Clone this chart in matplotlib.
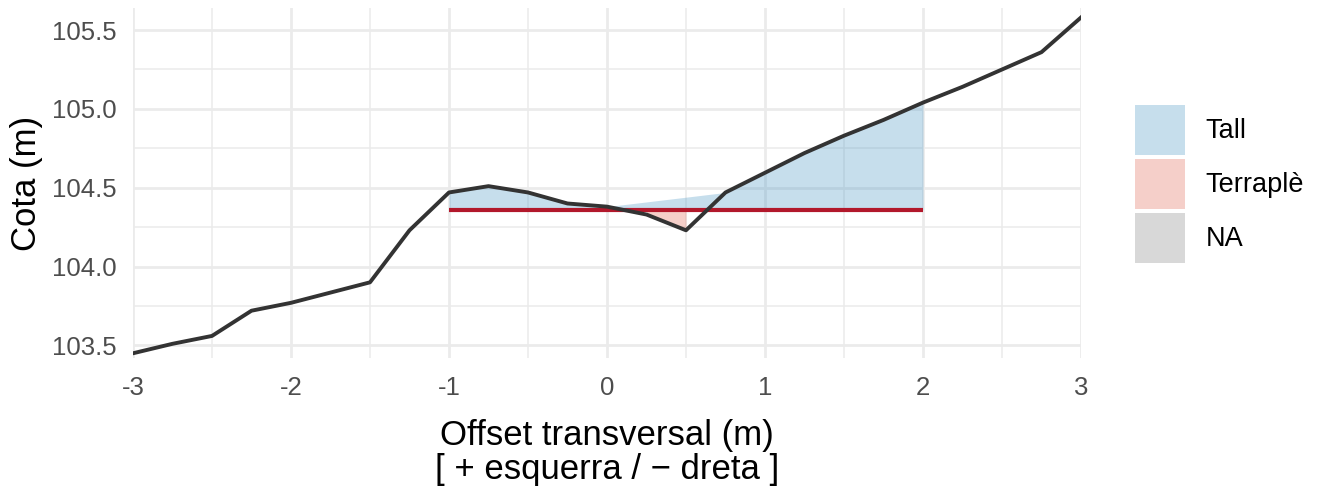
import matplotlib
matplotlib.use("Agg")
import matplotlib.pyplot as plt
from matplotlib.patches import Patch
import numpy as np

plt.rcParams['font.family'] = ['Liberation Sans', 'DejaVu Sans']

# terrain profile (offset, elevation)
offset = [-3.0, -2.75, -2.5, -2.25, -2.0, -1.75, -1.5, -1.25, -1.0, -0.75,
          -0.5, -0.25, 0.0, 0.25, 0.5, 0.75, 1.0, 1.25, 1.5, 1.75,
          2.0, 2.25, 2.5, 2.75, 3.0]
terreny = [103.45, 103.51, 103.56, 103.72, 103.77, 103.835, 103.90, 104.23, 104.47, 104.51,
           104.47, 104.40, 104.38, 104.33, 104.23, 104.47, 104.595, 104.72, 104.83, 104.93,
           105.04, 105.14, 105.25, 105.36, 105.58]

# design level between these offsets
rasant_x = [-1.0, 2.0]
rasant_z = 104.36

tipus_labels = ['Tall', 'Terraplè', 'NA']
tipus_colors = ['#4393C3', '#E0614F', '#7F7F7F']

x = np.array(offset)
z = np.array(terreny)
inside = (x >= rasant_x[0]) & (x <= rasant_x[1])
tipus = np.where(~inside, 'NA', np.where(z >= rasant_z, 'Tall', 'Terraplè'))

fig = plt.figure(figsize=(13.24, 4.91), dpi=100)
ax = fig.add_axes([133 / 1324, 1 - 358 / 491, (1081 - 133) / 1324, (358 - 8) / 491])

# ribbons by type (each type drawn as one group, like ggplot)
for lab, col in zip(tipus_labels[:2], tipus_colors[:2]):
    m = tipus == lab
    xs, zs = x[m], z[m]
    ax.fill_between(xs, np.full_like(xs, rasant_z), zs, color=col, alpha=0.3,
                    linewidth=0, zorder=2)

ax.plot(rasant_x, [rasant_z, rasant_z], color='#B2182B', lw=3.0, zorder=3,
        solid_capstyle='butt')
ax.plot(x, z, color='#333333', lw=2.8, zorder=4)

ax.set_xlim(-3, 3)
ax.set_ylim(103.42, 105.64)
ax.set_xticks(np.arange(-3, 4, 1))
ax.set_xticklabels([f'{v:d}' for v in range(-3, 4)])
ax.set_xticks(np.arange(-2.5, 3, 1), minor=True)
ax.set_yticks(np.arange(103.5, 105.51, 0.5))
ax.set_yticklabels([f'{v:.1f}' for v in np.arange(103.5, 105.51, 0.5)])
ax.set_yticks(np.arange(103.75, 105.6, 0.5), minor=True)

ax.grid(which='major', color='#EBEBEB', lw=2.0, zorder=0)
ax.grid(which='minor', color='#EBEBEB', lw=1.1, zorder=0)
ax.set_axisbelow(True)
for s in ax.spines.values():
    s.set_visible(False)
ax.tick_params(which='both', length=0, labelsize=18.5, labelcolor='#4D4D4D')
ax.tick_params(axis='x', pad=13)
ax.tick_params(axis='y', pad=12)

ax.set_xlabel('Offset transversal (m)\n[ + esquerra / \u2212 dreta ]', fontsize=25,
              labelpad=14, linespacing=1.0)
ax.set_ylabel('Cota (m)', fontsize=25, labelpad=6)

handles = [Patch(facecolor=c, alpha=0.3, edgecolor='none') for c in tipus_colors]
fig.legend(handles, tipus_labels, loc='center left', bbox_to_anchor=(1135 / 1324, 1 - 184 / 491),
           frameon=False, fontsize=19.5, handlelength=1.85, handleheight=2.46,
           labelspacing=0.15, handletextpad=0.75, borderpad=0, borderaxespad=0)

fig.savefig('out.png', dpi=100, facecolor='white')
